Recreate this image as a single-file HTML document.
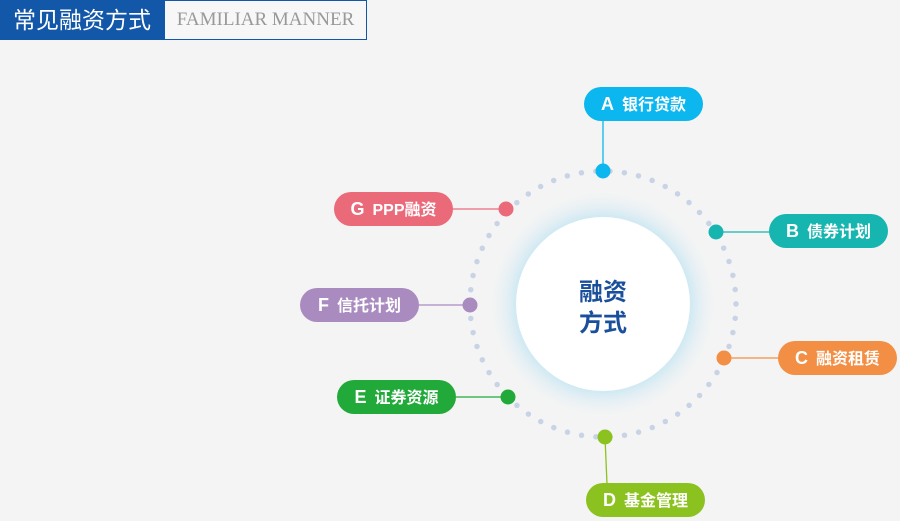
<!DOCTYPE html>
<html><head><meta charset="utf-8"><style>
html,body{margin:0;padding:0;width:900px;height:521px;overflow:hidden;background:#f4f4f4;font-family:"Liberation Sans","Noto Sans CJK SC",sans-serif;}
.hd1{position:absolute;left:0;top:0;width:164px;height:40px;background:#1257a8;color:#fff;font-size:23px;line-height:40px;text-align:center;}
.hd2{position:absolute;left:164px;top:0;width:201px;height:38px;border:1px solid #1257a8;background:#f7f7f7;color:#999;font-family:"Liberation Serif",serif;font-size:19px;line-height:38px;text-align:center;}
.pill{position:absolute;width:119px;height:34px;border-radius:17px;color:#fff;font-weight:bold;font-size:16px;line-height:34px;text-align:center;white-space:nowrap;}
.pill b{font-size:18px;margin-right:8px;}
</style></head><body>
<div class="hd1">常见融资方式</div>
<div class="hd2">FAMILIAR MANNER</div>
<svg width="900" height="521" style="position:absolute;left:0;top:0">
<defs><radialGradient id="g" cx="50%" cy="50%" r="50%">
<stop offset="0.75" stop-color="#cfe9f3"/><stop offset="1" stop-color="#f4f4f4" stop-opacity="0"/></radialGradient></defs>
<circle cx="603" cy="304" r="116" fill="url(#g)"/>
<circle cx="603" cy="304" r="133" fill="none" stroke="#c8d3e6" stroke-width="5.5" stroke-linecap="round" stroke-dasharray="0 14.4"/>
<circle cx="603" cy="304" r="87" fill="#fff"/>
<g stroke-width="1.3">
<line x1="603" y1="120" x2="603" y2="171" stroke="#0bb7ee"/>
<line x1="716" y1="232" x2="770" y2="232" stroke="#17b5b0"/>
<line x1="724" y1="358" x2="779" y2="358" stroke="#f28f45"/>
<line x1="605" y1="437" x2="607" y2="484" stroke="#8cc21f"/>
<line x1="456" y1="397" x2="508" y2="397" stroke="#21aa3a"/>
<line x1="417" y1="305" x2="470" y2="305" stroke="#a98bc0"/>
<line x1="452" y1="209" x2="506" y2="209" stroke="#ea6a7a"/>
</g>
<circle cx="603" cy="171" r="7.5" fill="#0bb7ee"/>
<circle cx="716" cy="232" r="7.5" fill="#17b5b0"/>
<circle cx="724" cy="358" r="7.5" fill="#f28f45"/>
<circle cx="605" cy="437" r="7.5" fill="#8cc21f"/>
<circle cx="508" cy="397" r="7.5" fill="#21aa3a"/>
<circle cx="470" cy="305" r="7.5" fill="#a98bc0"/>
<circle cx="506" cy="209" r="7.5" fill="#ea6a7a"/>
<text x="603" y="300" text-anchor="middle" font-size="24" font-weight="bold" fill="#1a4f9c" font-family="Liberation Sans,Noto Sans CJK SC,sans-serif">融资</text>
<text x="603" y="331" text-anchor="middle" font-size="24" font-weight="bold" fill="#1a4f9c" font-family="Liberation Sans,Noto Sans CJK SC,sans-serif">方式</text>
</svg>
<div class="pill" style="left:584px;top:87px;background:#0bb7ee"><b>A</b>银行贷款</div>
<div class="pill" style="left:769px;top:214px;background:#17b5b0"><b>B</b>债券计划</div>
<div class="pill" style="left:778px;top:341px;background:#f28f45"><b>C</b>融资租赁</div>
<div class="pill" style="left:586px;top:483px;background:#8cc21f"><b>D</b>基金管理</div>
<div class="pill" style="left:337px;top:380px;background:#21aa3a"><b>E</b>证券资源</div>
<div class="pill" style="left:300px;top:288px;background:#a98bc0"><b>F</b>信托计划</div>
<div class="pill" style="left:334px;top:192px;background:#ea6a7a"><b>G</b>PPP融资</div>
</body></html>
